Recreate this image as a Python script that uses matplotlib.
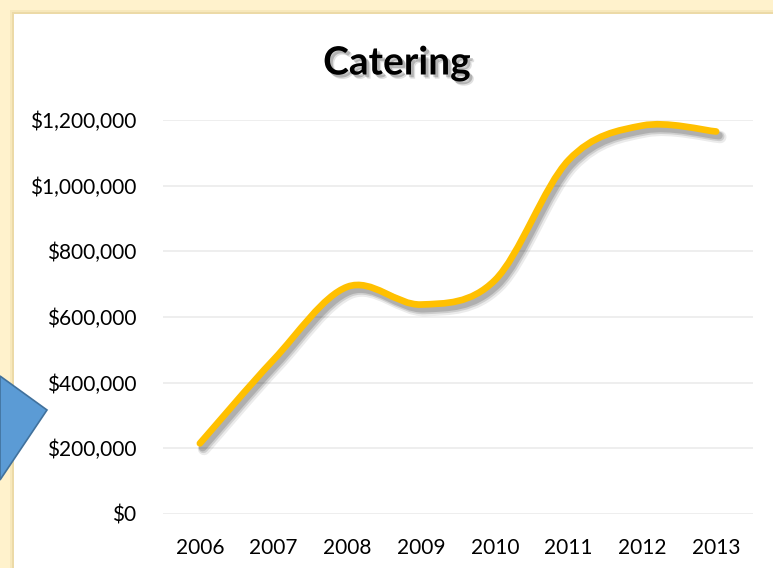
import matplotlib
matplotlib.use("Agg")
import matplotlib.pyplot as plt
import matplotlib.patheffects as pe
from matplotlib.path import Path
from matplotlib.patches import PathPatch, Rectangle, Polygon
from matplotlib.ticker import FuncFormatter

years = ["2006", "2007", "2008", "2009", "2010", "2011", "2012", "2013"]
sales = [215000, 470000, 692000, 638000, 712000, 1078000, 1183000, 1165000]
y_ticks = [0, 200000, 400000, 600000, 800000, 1000000, 1200000]

plt.rcParams['font.family'] = ['Lato', 'DejaVu Sans']

fig = plt.figure(figsize=(7.73, 5.68), dpi=100)
fig.patch.set_facecolor("#FFF2CC")

# white chart panel with a soft shadow on the top / left
panel = Rectangle((14 / 773, -0.05), 1.0, 1 - 14 / 568 + 0.05, transform=fig.transFigure,
                  facecolor="white", edgecolor="none", zorder=-2,
                  path_effects=[pe.SimplePatchShadow(offset=(-3, 3), shadow_rgbFace="#F0DFAE", alpha=0.5),
                                pe.SimplePatchShadow(offset=(-1.5, 1.5), shadow_rgbFace="#E6D29A", alpha=0.6),
                                pe.Normal()])
fig.patches.append(panel)

ax = fig.add_axes([163 / 773, 1 - 514 / 568, 590 / 773, 394 / 568])
ax.set_facecolor("none")

# smoothed line (Excel style bezier through the points)
n = len(sales)
xs = list(range(n))
verts = [(xs[0], sales[0])]
codes = [Path.MOVETO]
for i in range(n - 1):
    p0 = (xs[max(i - 1, 0)], sales[max(i - 1, 0)])
    p1 = (xs[i], sales[i])
    p2 = (xs[i + 1], sales[i + 1])
    p3 = (xs[min(i + 2, n - 1)], sales[min(i + 2, n - 1)])
    c1 = (p1[0] + (p2[0] - p0[0]) / 6, p1[1] + (p2[1] - p0[1]) / 6)
    c2 = (p2[0] - (p3[0] - p1[0]) / 6, p2[1] - (p3[1] - p1[1]) / 6)
    verts += [c1, c2, p2]
    codes += [Path.CURVE4] * 3
shadow = [pe.SimpleLineShadow(offset=(3, -4), shadow_color="black", alpha=0.08, linewidth=9),
          pe.SimpleLineShadow(offset=(2.5, -3.5), shadow_color="black", alpha=0.12, linewidth=7),
          pe.SimpleLineShadow(offset=(2, -3), shadow_color="black", alpha=0.15, linewidth=5.5),
          pe.Normal()]
curve = PathPatch(Path(verts, codes), facecolor="none", edgecolor="#FFC000", lw=4.8,
                  capstyle="round", joinstyle="round", zorder=3, path_effects=shadow)
ax.add_patch(curve)

ax.set_xlim(-0.5, n - 0.5)
ax.set_ylim(0, 1200000)
ax.set_xticks(xs)
ax.set_xticklabels(years)
ax.set_yticks(y_ticks)
ax.yaxis.set_major_formatter(FuncFormatter(lambda v, p: "${:,.0f}".format(v)))
ax.grid(axis="y", color="#EEEEEE", lw=1.4)
ax.set_axisbelow(True)
for s in ax.spines.values():
    s.set_visible(False)
ax.tick_params(length=0, labelsize=15, colors="black")
ax.tick_params(axis="x", pad=17)
ax.tick_params(axis="y", pad=19)

fig.text(397 / 773, 1 - 63 / 568, "Catering", ha="center", va="center",
         fontsize=28, fontweight="bold",
         path_effects=[pe.SimplePatchShadow(offset=(3, -3), shadow_rgbFace="black", alpha=0.12),
                       pe.SimplePatchShadow(offset=(2, -2), shadow_rgbFace="black", alpha=0.2),
                       pe.Normal()])

# blue shape sticking in from the left
shape = Polygon([(0, 1 - 376 / 568), (47 / 773, 1 - 410 / 568), (0, 1 - 480 / 568)],
                closed=True, transform=fig.transFigure, facecolor="#5B9BD5",
                edgecolor="#41719C", lw=1.2, zorder=5)
fig.patches.append(shape)

fig.savefig("out.png", dpi=100, facecolor=fig.get_facecolor())
